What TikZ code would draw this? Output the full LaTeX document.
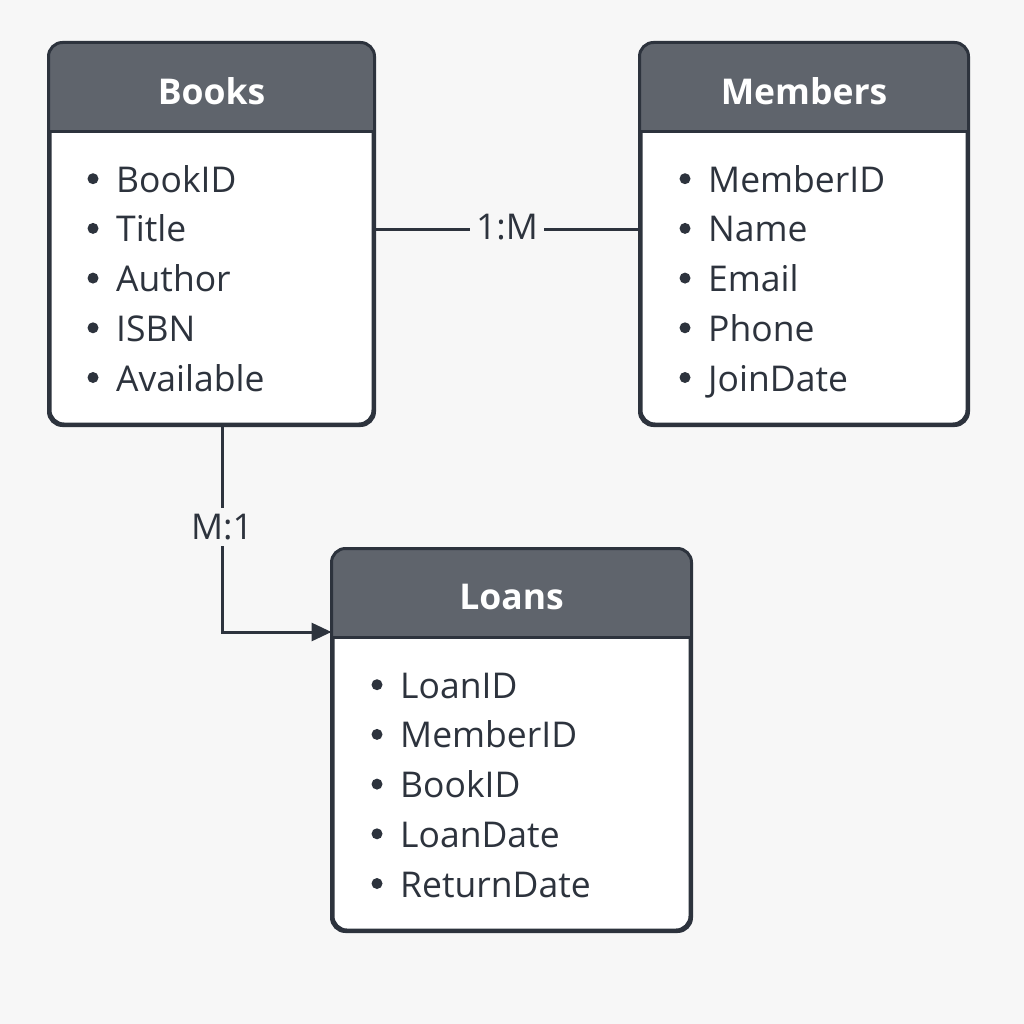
\documentclass[tikz,border=0pt]{standalone}
\usepackage{fontspec}
\setmainfont{Open Sans}
\usepackage{tikz}
\usetikzlibrary{arrows.meta}

\definecolor{pagebg}{HTML}{F7F7F7}
\definecolor{headfill}{HTML}{5F646C}
\definecolor{edgecol}{HTML}{2D333D}

\begin{document}
\begin{tikzpicture}
  [x=1pt, y=-1pt,
   tbox/.style={draw=edgecol, line width=3pt, fill=white, rounded corners=14pt,
     minimum size=0, inner sep=0},
   ttitle/.style={text=white, font=\fontsize{35.5}{40}\selectfont\bfseries},
   item/.style={anchor=base west, text=edgecol, inner sep=0,
     font=\fontsize{35.5}{40}\selectfont},
   conn/.style={draw=edgecol, line width=3pt},
   card/.style={fill=pagebg, text=edgecol, inner sep=6pt,
     font=\fontsize{35.5}{40}\selectfont}]
  \fill[pagebg] (0,0) rectangle (1024,1024);
  \useasboundingbox (0,0) rectangle (1024,1024);

  % tables
  \node[tbox, minimum width=323pt, minimum height=380pt] (books) at (211.5,234) {};
  \node[tbox, minimum width=326pt, minimum height=380pt] (members) at (804,234) {};
  \node[tbox, minimum width=357pt, minimum height=380pt] (loans) at (511.5,740) {};

  \foreach \t in {books, members, loans} {
    \fill[headfill] ([yshift=-89pt]\t.north west) [rounded corners=14pt]
      -- (\t.north west) -- (\t.north east) [sharp corners]
      -- ([yshift=-89pt]\t.north east) -- cycle;
    \draw[edgecol, line width=3pt] ([yshift=-89pt]\t.north west)
      -- ([yshift=-89pt]\t.north east);
    \draw[edgecol, line width=3pt, rounded corners=14pt]
      (\t.north west) rectangle (\t.south east);
  }

  \node[ttitle] (bookstitle) at (211.5,91) {Books};
  \node[ttitle] (memberstitle) at (804,91) {Members};
  \node[ttitle] (loanstitle) at (511.5,597) {Loans};

  % fields
  \foreach \f [count=\i] in {BookID, Title, Author, ISBN, Available} {
    \fill[edgecol] (93,129+49.7*\i) circle (5.5pt);
    \node[item] (b\i) at (116,142.5+49.7*\i) {\f};
  }
  \foreach \f [count=\i] in {MemberID, Name, Email, Phone, JoinDate} {
    \fill[edgecol] (685,129+49.7*\i) circle (5.5pt);
    \node[item] (m\i) at (708,142.5+49.7*\i) {\f};
  }
  \foreach \f [count=\i] in {LoanID, MemberID, BookID, LoanDate, ReturnDate} {
    \fill[edgecol] (377,635+49.7*\i) circle (5.5pt);
    \node[item] (l\i) at (400,648.5+49.7*\i) {\f};
  }

  % relations
  \coordinate (bm) at (books.east |- 0,230);
  \coordinate (mb) at (members.west |- 0,230);
  \draw[conn] (bm) -- (mb) node[card, midway, yshift=3pt] (onemany) {1:M};
  \coordinate (bdown) at (222,424);
  \coordinate (lin) at (loans.west |- 0,632);
  \draw[conn, -{Triangle[length=20pt, width=18pt]}]
    (bdown) -- (222,632) -- (lin);
  \node[card] (manyone) at (222,527) {M:1};
\end{tikzpicture}
\end{document}
